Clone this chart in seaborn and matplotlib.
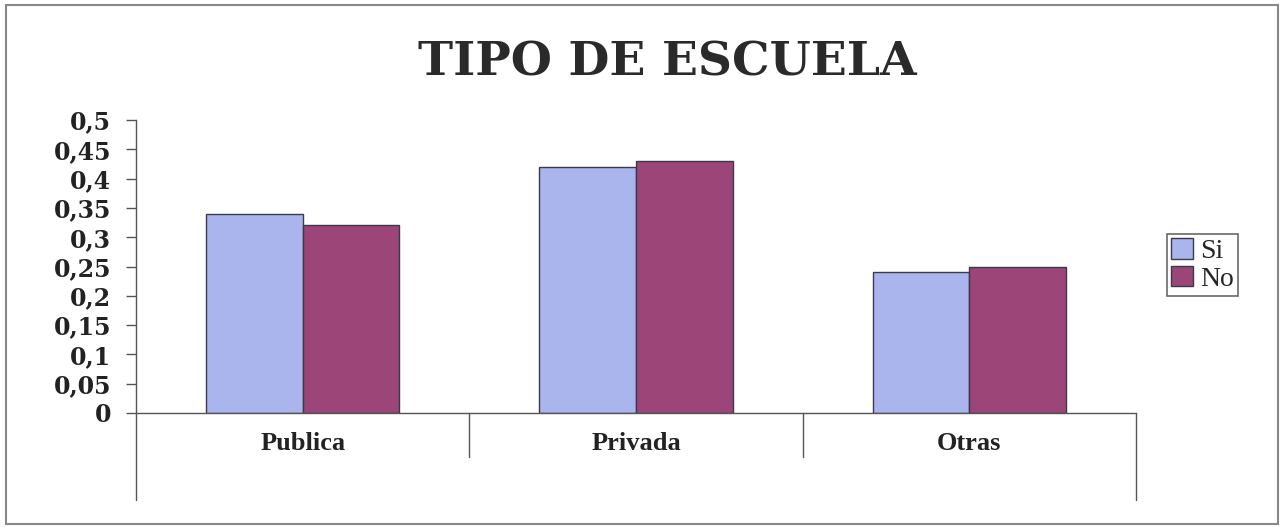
import matplotlib
matplotlib.use("Agg")
import matplotlib.pyplot as plt
import matplotlib.transforms as mtransforms
from matplotlib.patches import Rectangle
import seaborn as sns
import pandas as pd

categories = ["Publica", "Privada", "Otras"]
series = ["Si", "No"]
si_values = [0.34, 0.42, 0.24]
no_values = [0.32, 0.43, 0.25]
y_ticks = [0, 0.05, 0.1, 0.15, 0.2, 0.25, 0.3, 0.35, 0.4, 0.45, 0.5]
y_tick_labels = ["0", "0,05", "0,1", "0,15", "0,2", "0,25", "0,3", "0,35", "0,4", "0,45", "0,5"]
title = "TIPO DE ESCUELA"

df = pd.DataFrame({
    "cat": categories * 2,
    "serie": [series[0]] * 3 + [series[1]] * 3,
    "val": si_values + no_values,
})

sns.set_style("white")
plt.rcParams['font.family'] = ['Liberation Serif', 'DejaVu Serif']

W, H = 1285, 527
fig = plt.figure(figsize=(W / 100, H / 100), dpi=100)
fig.patch.set_facecolor("white")

left, right = 136 / W, 1136 / W
bottom, top = (H - 413) / H, (H - 120) / H
ax = fig.add_axes([left, bottom, right - left, top - bottom])

palette = {"Si": "#aab5ee", "No": "#9c4579"}
sns.barplot(data=df, x="cat", y="val", hue="serie", palette=palette,
            width=0.58, edgecolor="#3a3a4a", linewidth=1.0, saturation=1,
            ax=ax, legend=True)

ax.set_xlim(-0.5, 2.5)
ax.set_ylim(0, 0.5)
ax.set_yticks(y_ticks)
ax.set_yticklabels(y_tick_labels, fontsize=17, fontweight="bold", color="#222222",
                   family="DejaVu Serif")
ax.tick_params(axis="y", which="major", direction="out", length=7, width=1,
               color="#555555", left=True, pad=11)
ax.tick_params(axis="x", length=0, pad=14)
ax.set_xticks(range(len(categories)))
ax.set_xticklabels(categories, fontsize=19, fontweight="bold", color="#222222")
ax.set_xlabel("")
ax.set_ylabel("")

for s in ["top", "right"]:
    ax.spines[s].set_visible(False)
ax.spines["left"].set_color("#555555")
ax.spines["bottom"].set_color("#555555")
ax.spines["left"].set_linewidth(1)
ax.spines["bottom"].set_linewidth(1)

trans = mtransforms.blended_transform_factory(ax.transData, ax.transAxes)
ext_long = -(500 - 413) / (413 - 120)
ext_short = -(457 - 413) / (413 - 120)
for xv, yb in [(-0.5, ext_long), (2.5, ext_long), (0.5, ext_short), (1.5, ext_short)]:
    ax.plot([xv, xv], [0, yb], transform=trans, color="#555555", lw=1, clip_on=False)

leg = ax.legend(loc="center left", bbox_to_anchor=(1167 / W, (H - 265) / H),
                bbox_transform=fig.transFigure,
                frameon=True, fancybox=False, edgecolor="#444444",
                fontsize=20, handlelength=0.8, handleheight=0.75,
                handletextpad=0.25, borderpad=0.15, labelspacing=0.05,
                borderaxespad=0)
leg.get_frame().set_linewidth(1.2)

fig.text((413 + 922) / 2 / W, (H - 62) / H, title, ha="center", va="center",
         fontsize=34, fontweight="bold", color="#2a2a2a", family="DejaVu Serif")

fig.patches.append(Rectangle((6 / W, 3 / H), (1278 - 6) / W, (524 - 5) / H,
                             transform=fig.transFigure, fill=False,
                             edgecolor="#888888", lw=1.5))

fig.savefig("out.png", dpi=100, facecolor="white")
